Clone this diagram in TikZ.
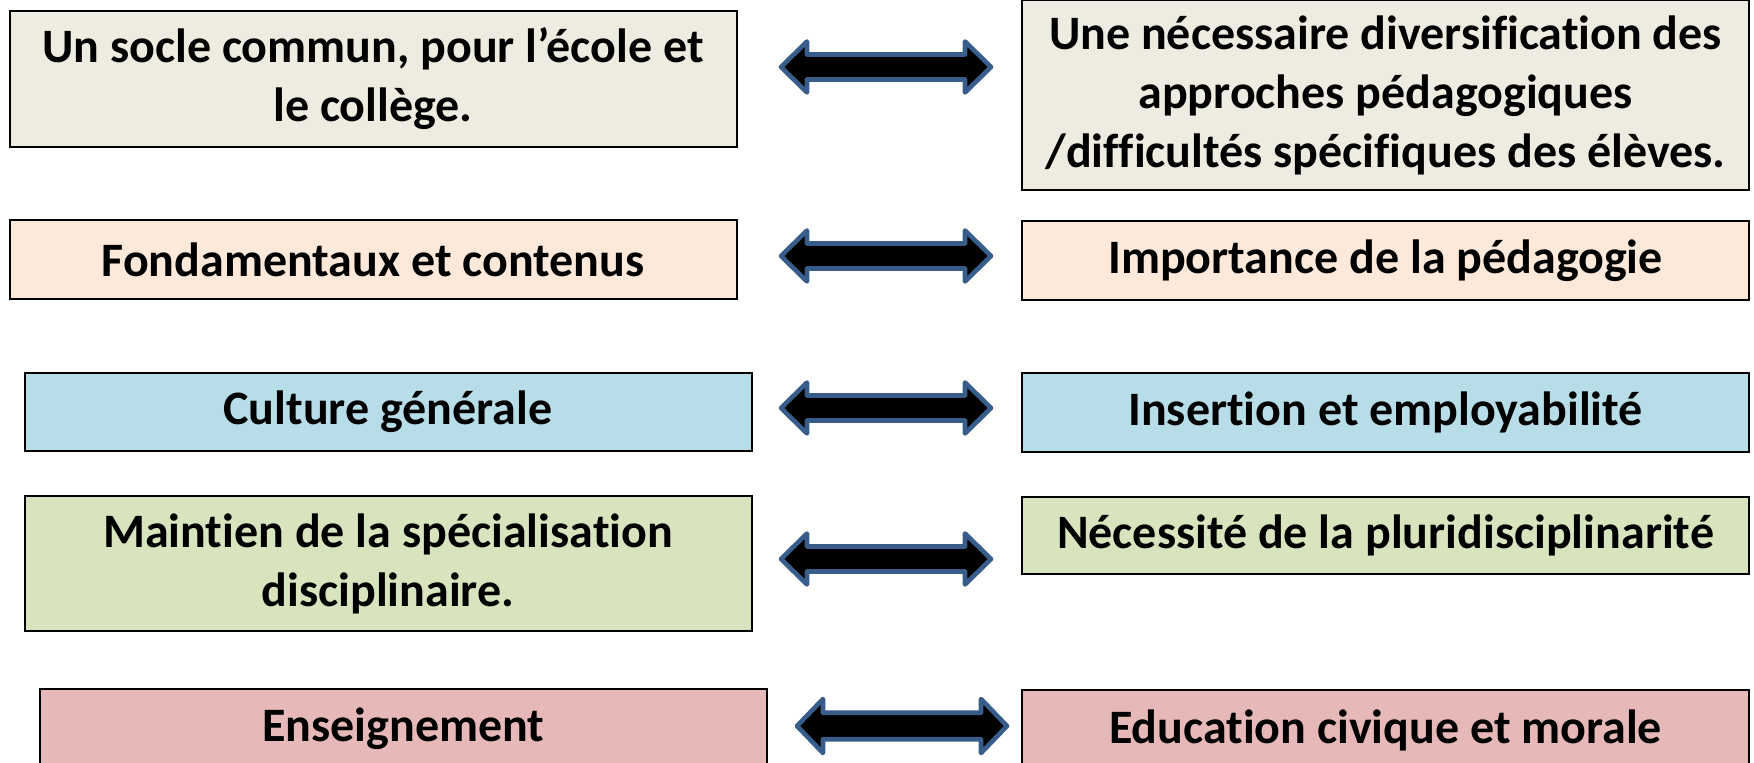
\documentclass[tikz,border=0pt]{standalone}
\usepackage{fontspec}
\setmainfont{Carlito}[Ligatures={NoCommon}]
\definecolor{rowA}{HTML}{EEECE1}
\definecolor{rowB}{HTML}{FDE9D9}
\definecolor{rowC}{HTML}{B7DDE8}
\definecolor{rowD}{HTML}{D7E4BD}
\definecolor{rowE}{HTML}{E6B9B8}
\definecolor{arrowblue}{HTML}{385D8A}
\begin{document}
\begin{tikzpicture}[x=0.5pt,y=-0.5pt,
  box/.style={draw=black, line width=1pt, inner sep=0pt, align=center,
    minimum width=363.5pt, font=\fontsize{24}{29.5}\selectfont\bfseries},
  dbl/.style={draw=arrowblue, fill=black, line width=2.3pt, line join=round},
  dblarrow/.pic={\draw[dbl] (-105,0) -- (-79,-25.5) -- (-79,-12.5) -- (79,-12.5) -- (79,-25.5) -- (105,0)
     -- (79,25.5) -- (79,12.5) -- (-79,12.5) -- (-79,25.5) -- cycle;}]
\useasboundingbox (0,0) rectangle (1754,763);
% left column
\node[box, fill=rowA, minimum height=68pt] (l1) at (373,79) {Un socle commun, pour l’école et\\le collège.};
\node[box, fill=rowB, minimum height=39.5pt] (l2) at (373,259.5) {Fondamentaux et contenus};
\node[box, fill=rowC, minimum height=39pt] (l3) at (388,412) {Culture générale};
\node[box, fill=rowD, minimum height=67.5pt] (l4) at (388,563.5) {Maintien de la spécialisation\\disciplinaire.};
\node[box, fill=rowE, minimum height=40pt] (l5) at (403.5,729) {Enseignement};
% right column
\node[box, fill=rowA, minimum height=95pt] (r1) at (1385.5,95) {Une nécessaire diversification des\\approches pédagogiques\\/difficultés spécifiques des élèves.};
\node[box, fill=rowB, minimum height=39.5pt] (r2) at (1385.5,260.5) {Importance de la pédagogie};
\node[box, fill=rowC, minimum height=39.5pt] (r3) at (1385.5,412.5) {Insertion et employabilité};
\node[box, fill=rowD, minimum height=38.5pt] (r4) at (1385.5,535.5) {Nécessité de la pluridisciplinarité};
\node[box, fill=rowE, minimum height=40pt] (r5) at (1385.5,730) {Education civique et morale};
% arrows
\coordinate (a1) at (886,67);
\coordinate (a2) at (886,256);
\coordinate (a3) at (886,408);
\coordinate (a4) at (886,559);
\coordinate (a5) at (902,726);
\pic at (a1) {dblarrow};
\pic at (a2) {dblarrow};
\pic at (a3) {dblarrow};
\pic at (a4) {dblarrow};
\pic[yscale=1.06] at (a5) {dblarrow};
\end{tikzpicture}
\end{document}
